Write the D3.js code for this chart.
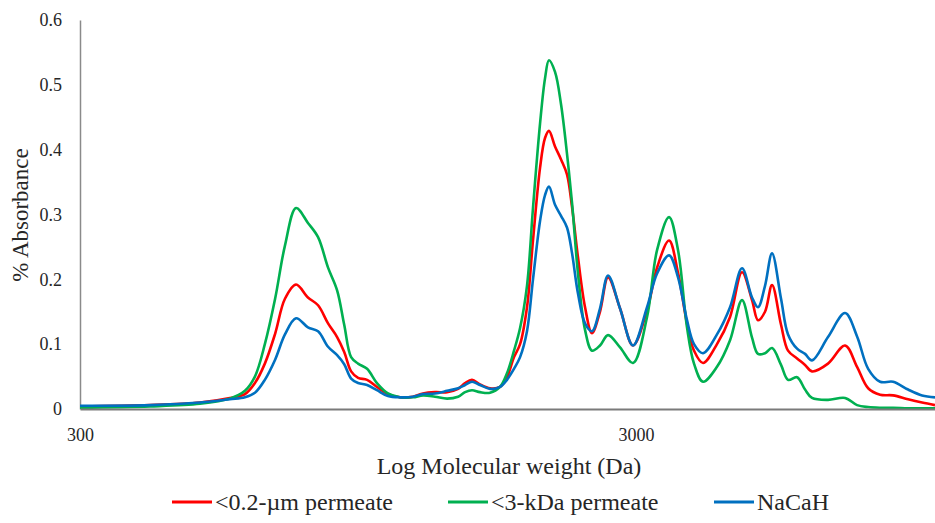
<!DOCTYPE html>
<html>
<head>
<meta charset="utf-8">
<script src="https://cdn.jsdelivr.net/npm/d3@7"></script>
</head>
<body style="margin:0; background:#fff">
<svg id="chart" width="935" height="523"></svg>
<script>
// molecular weight (Da)
var mw = [300, 401, 493, 558, 594, 619, 645, 673, 701, 734, 771, 804, 838, 870, 896, 922, 949, 985,
  1026, 1074, 1129, 1191, 1242, 1305, 1372, 1436, 1478, 1521, 1572, 1639, 1708, 1758, 1810, 1856,
  1910, 1958, 2016, 2058, 2092, 2145, 2199, 2254, 2302, 2359, 2429, 2500, 2584, 2672, 2808, 2963,
  3140, 3273, 3440, 3570, 3705, 3814, 3959, 4195, 4428, 4653, 4850, 4972, 5118, 5269, 5469, 5630,
  5845, 6041, 6218, 6643, 7130, 7493, 7845, 8243, 8698, 9255, 9808, 10347]

var permeate02 = [0.004, 0.006, 0.010, 0.017, 0.023, 0.040, 0.070, 0.116, 0.170, 0.192, 0.172, 0.160,
  0.132, 0.111, 0.088, 0.058, 0.048, 0.045, 0.034, 0.023, 0.018, 0.019, 0.024, 0.026, 0.026, 0.031,
  0.040, 0.045, 0.038, 0.032, 0.034, 0.049, 0.080, 0.100, 0.157, 0.260, 0.372, 0.418, 0.429, 0.405,
  0.385, 0.362, 0.311, 0.234, 0.157, 0.117, 0.150, 0.203, 0.155, 0.098, 0.152, 0.218, 0.260, 0.210,
  0.132, 0.090, 0.071, 0.100, 0.142, 0.211, 0.168, 0.137, 0.150, 0.191, 0.130, 0.090, 0.078, 0.068,
  0.058, 0.070, 0.098, 0.065, 0.032, 0.022, 0.021, 0.015, 0.010, 0.006]

var permeate3k = [0.002, 0.004, 0.008, 0.016, 0.028, 0.050, 0.100, 0.170, 0.252, 0.310, 0.287, 0.265,
  0.218, 0.183, 0.130, 0.080, 0.070, 0.062, 0.040, 0.024, 0.018, 0.018, 0.021, 0.019, 0.016, 0.019,
  0.026, 0.029, 0.026, 0.025, 0.034, 0.055, 0.090, 0.125, 0.190, 0.310, 0.440, 0.510, 0.538, 0.520,
  0.470, 0.394, 0.317, 0.209, 0.122, 0.090, 0.098, 0.114, 0.095, 0.071, 0.142, 0.245, 0.296, 0.245,
  0.126, 0.070, 0.042, 0.065, 0.106, 0.168, 0.110, 0.085, 0.086, 0.094, 0.068, 0.045, 0.049, 0.030,
  0.017, 0.014, 0.017, 0.006, 0.003, 0.002, 0.002, 0.001, 0.001, 0.001]

var nacah = [0.005, 0.006, 0.010, 0.015, 0.018, 0.025, 0.045, 0.076, 0.115, 0.140, 0.126, 0.120,
  0.096, 0.083, 0.069, 0.047, 0.040, 0.037, 0.029, 0.020, 0.018, 0.019, 0.023, 0.024, 0.028, 0.032,
  0.037, 0.042, 0.037, 0.031, 0.034, 0.045, 0.062, 0.080, 0.120, 0.200, 0.290, 0.330, 0.343, 0.315,
  0.298, 0.280, 0.240, 0.178, 0.132, 0.120, 0.155, 0.206, 0.155, 0.098, 0.157, 0.209, 0.237, 0.203,
  0.137, 0.100, 0.086, 0.115, 0.157, 0.217, 0.172, 0.157, 0.190, 0.240, 0.170, 0.115, 0.093, 0.085,
  0.075, 0.111, 0.148, 0.112, 0.062, 0.042, 0.042, 0.030, 0.021, 0.018]

var seriesNames = ["<0.2-\u00b5m permeate", "<3-kDa permeate", "NaCaH"]
var seriesColors = ["#ff0000", "#00b050", "#0070c0"]
var yTicks = [0, 0.1, 0.2, 0.3, 0.4, 0.5, 0.6]
var xTicks = [300, 3000]

var serif = "'Liberation Serif'"
var ink = "#262626"

var svg = d3.select("#chart")

var x = d3.scaleLog()
    .domain([300, 10347])
    .range([80, 935])

var y = d3.scaleLinear()
    .domain([0, 0.6])
    .range([409, 20])

// y axis
var yAxis = svg.append("g")
    .attr("transform", "translate(80,0)")
    .call(d3.axisLeft(y).tickValues(yTicks).tickSize(0).tickPadding(18)
        .tickFormat(function (d) { return d === 0 ? "0" : d3.format(".1f")(d) }))
yAxis.select(".domain").attr("stroke", "#8a8a8a").attr("stroke-width", 1.5)
yAxis.selectAll("text")
    .style("font-family", serif)
    .style("font-size", "18px")
    .style("fill", ink)

// series lines
var line = d3.line()
    .x(function (d) { return x(d[0]) })
    .y(function (d) { return y(d[1]) })
    .curve(d3.curveCatmullRom.alpha(0.5))

var allSeries = [permeate02, permeate3k, nacah]
allSeries.forEach(function (vals, i) {
    svg.append("path")
        .datum(mw.map(function (m, j) { return [m, vals[j]] }))
        .attr("d", line)
        .attr("fill", "none")
        .attr("stroke", seriesColors[i])
        .attr("stroke-width", 2.6)
})

// x axis on top of the lines
var xAxis = svg.append("g")
    .attr("transform", "translate(0,409)")
    .call(d3.axisBottom(x).tickValues(xTicks).tickSize(0).tickPadding(19)
        .tickFormat(d3.format("d")))
xAxis.select(".domain").attr("stroke", "#7a7a7a").attr("stroke-width", 2)
xAxis.selectAll("text")
    .style("font-family", serif)
    .style("font-size", "18px")
    .style("fill", ink)

// titles
svg.append("text")
    .attr("x", 509)
    .attr("y", 474)
    .attr("text-anchor", "middle")
    .style("font-family", serif)
    .style("font-size", "24px")
    .style("fill", ink)
    .text("Log Molecular weight (Da)")

svg.append("text")
    .attr("transform", "translate(28,215) rotate(-90)")
    .attr("text-anchor", "middle")
    .style("font-family", serif)
    .style("font-size", "23px")
    .style("fill", ink)
    .text("% Absorbance")

// legend
var legendX = [172, 448, 714]
var legend = svg.append("g")
seriesNames.forEach(function (name, i) {
    legend.append("line")
        .attr("x1", legendX[i]).attr("x2", legendX[i] + 40)
        .attr("y1", 502).attr("y2", 502)
        .attr("stroke", seriesColors[i])
        .attr("stroke-width", 3)
    legend.append("text")
        .attr("x", legendX[i] + 43)
        .attr("y", 510)
        .style("font-family", serif)
        .style("font-size", "24px")
        .style("fill", ink)
        .text(name)
})
</script>
</body>
</html>
